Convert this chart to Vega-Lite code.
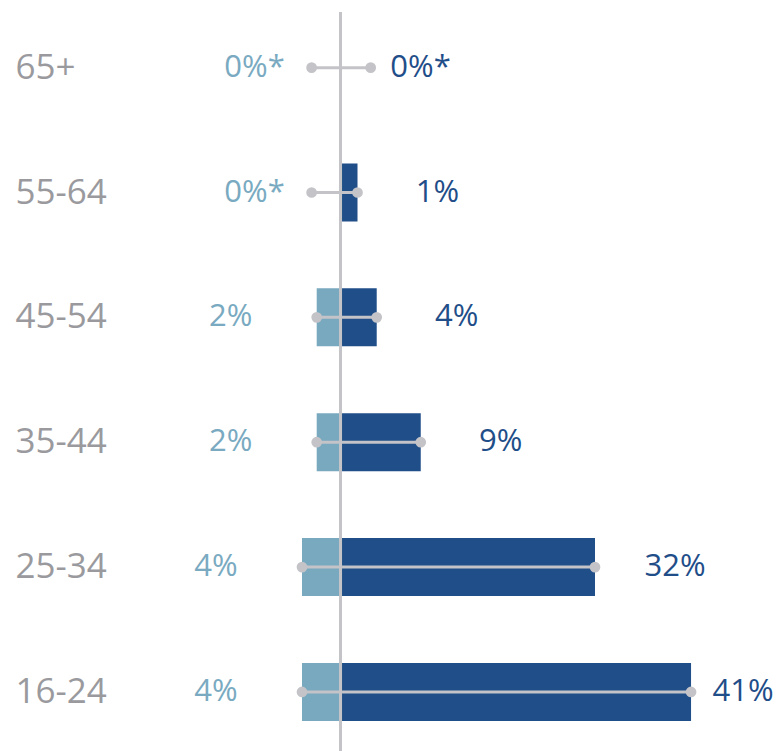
{
  "$schema": "https://vega.github.io/schema/vega-lite/v6.json",
  "width": 778,
  "height": 739,
  "autosize": "none",
  "padding": {"left": 0, "right": 0, "top": 12, "bottom": 0},
  "background": "white",
  "config": {"view": {"stroke": null}},
  "data": {
    "values": [
      {"age": "65+", "left": 0, "right": 0, "lo": -3.4, "hi": 3.55, "ll": "0%*", "rl": "0%*"},
      {"age": "55-64", "left": 0, "right": 2.0, "lo": -3.4, "hi": 2.0, "ll": "0%*", "rl": "1%"},
      {"age": "45-54", "left": -2.8, "right": 4.26, "lo": -2.8, "hi": 4.26, "ll": "2%", "rl": "4%"},
      {"age": "35-44", "left": -2.8, "right": 9.44, "lo": -2.8, "hi": 9.44, "ll": "2%", "rl": "9%"},
      {"age": "25-34", "left": -4.53, "right": 29.94, "lo": -4.53, "hi": 29.94, "ll": "4%", "rl": "32%"},
      {"age": "16-24", "left": -4.53, "right": 41.24, "lo": -4.53, "hi": 41.24, "ll": "4%", "rl": "41%"}
    ]
  },
  "layer": [
    {
      "encoding": {
        "y": {
          "field": "age",
          "type": "nominal",
          "sort": ["65+", "55-64", "45-54", "35-44", "25-34", "16-24"],
          "scale": {"paddingInner": 0.5355, "paddingOuter": 0.22705, "align": 0.47},
          "axis": {
            "title": null,
            "domain": false,
            "ticks": false,
            "tickSize": 0,
            "labelAlign": "left",
            "labelPadding": -15,
            "labelFontSize": 35,
            "labelColor": "#9a9a9e",
            "labelFont": "Open Sans",
            "labelBaseline": "middle",
            "labelLimit": 0
          }
        }
      },
      "layer": [
        {
          "mark": {"type": "bar", "color": "#78a9be"},
          "encoding": {
            "x": {"field": "left", "type": "quantitative", "stack": null, "scale": {"domain": [-40.06, 51.47], "nice": false, "zero": false}, "axis": null}
          }
        },
        {
          "mark": {"type": "bar", "color": "#1f4e89"},
          "encoding": {
            "x": {"field": "right", "type": "quantitative", "stack": null}
          }
        }
      ]
    },
    {
      "mark": {"type": "rule", "color": "#c4c4c8", "strokeWidth": 3},
      "encoding": {"x": {"datum": 0, "type": "quantitative"}}
    },
    {
      "encoding": {
        "y": {
          "field": "age",
          "type": "nominal",
          "sort": ["65+", "55-64", "45-54", "35-44", "25-34", "16-24"]
        }
      },
      "layer": [
        {
          "mark": {"type": "rule", "color": "#c4c4c8", "strokeWidth": 3},
          "encoding": {
            "x": {"field": "lo", "type": "quantitative"},
            "x2": {"field": "hi"}
          }
        },
        {
          "mark": {"type": "circle", "color": "#c4c4c8", "size": 115, "opacity": 1},
          "encoding": {"x": {"field": "lo", "type": "quantitative"}}
        },
        {
          "mark": {"type": "circle", "color": "#c4c4c8", "size": 115, "opacity": 1},
          "encoding": {"x": {"field": "hi", "type": "quantitative"}}
        },
        {
          "mark": {"type": "text", "align": "center", "baseline": "middle", "dx": -86, "font": "Open Sans", "fontSize": 31, "color": "#79aac1"},
          "encoding": {
            "x": {"field": "left", "type": "quantitative"},
            "text": {"field": "ll"}
          }
        },
        {
          "transform": [{"filter": "datum.right <= 38"}],
          "mark": {"type": "text", "align": "center", "baseline": "middle", "dx": 80, "font": "Open Sans", "fontSize": 31, "color": "#1f4e89"},
          "encoding": {
            "x": {"field": "right", "type": "quantitative"},
            "text": {"field": "rl"}
          }
        },
        {
          "transform": [{"filter": "datum.right > 38"}],
          "mark": {"type": "text", "align": "center", "baseline": "middle", "dx": 52, "font": "Open Sans", "fontSize": 31, "color": "#1f4e89"},
          "encoding": {
            "x": {"field": "right", "type": "quantitative"},
            "text": {"field": "rl"}
          }
        }
      ]
    }
  ]
}
